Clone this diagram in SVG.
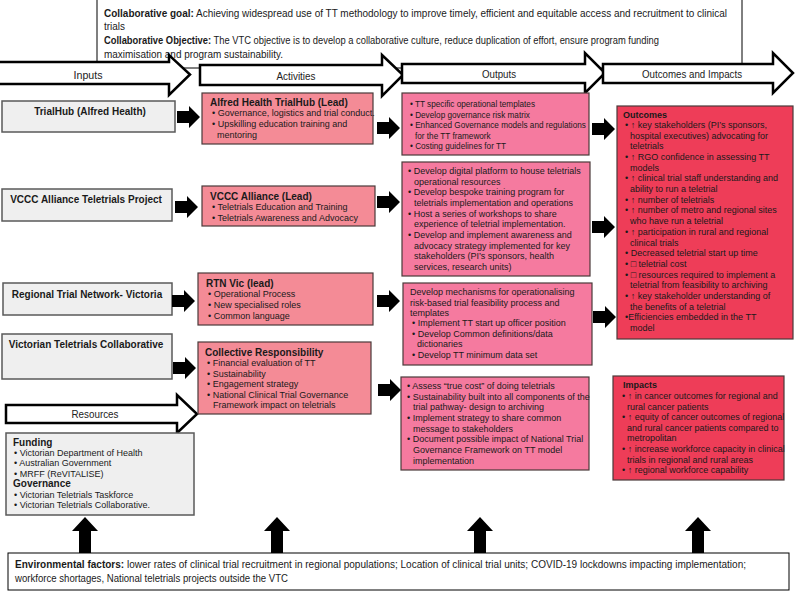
<svg xmlns="http://www.w3.org/2000/svg" width="800" height="593" viewBox="0 0 800 593">
<defs>
<style>
text{font-family:"Liberation Sans",Arial,sans-serif;fill:#1a1a1a}
.hd{font-size:10px}
.lbl{font-size:11px;text-anchor:middle;fill:#222}
.b{font-weight:bold}
.t{font-size:10px;font-weight:bold}
.s{font-size:9px}
.s8{font-size:8.2px}
.gray{fill:#efefef;stroke:#5a5a5a;stroke-width:1.5}
.act{fill:#f48b96;stroke:#4a3a3a;stroke-width:1.2}
.out{fill:#f57a9f;stroke:#4a3a3a;stroke-width:1.2}
.res{fill:#ee3d58;stroke:#4a3a3a;stroke-width:1.2}
.big{fill:#fff;stroke:#000;stroke-width:2.5;stroke-linejoin:miter}
.frame{fill:#fff;stroke:#000;stroke-width:1}
</style>
<path id="ra" d="M0,-6 H12 V-11 L23,0 L12,11 V6 H0 Z" fill="#000"/>
<path id="ua" d="M-6,36 V14 H-13 L0,0 L13,14 H6 V36 Z" fill="#000"/>
</defs>
<rect width="800" height="593" fill="#fff"/>

<g id="goal">
<rect class="frame" x="97" y="-1" width="645" height="69"/>
<text class="hd" x="104" y="16.5" textLength="623" lengthAdjust="spacingAndGlyphs"><tspan class="b">Collaborative goal:</tspan> Achieving widespread use of TT methodology to improve timely, efficient and equitable access and recruitment to clinical</text>
<text class="hd" x="104" y="30" textLength="21" lengthAdjust="spacingAndGlyphs">trials</text>
<text class="hd" x="104" y="44" textLength="555" lengthAdjust="spacingAndGlyphs"><tspan class="b">Collaborative Objective:</tspan> The VTC objective is to develop a collaborative culture, reduce duplication of effort, ensure program funding</text>
<text class="hd" x="104" y="58" textLength="179" lengthAdjust="spacingAndGlyphs">maximisation and program sustainability.</text>
</g>

<g id="header-arrows">
<g id="arrow-inputs">
<path class="big" d="M-3,62 H169 V55 L190,74.5 L169,95 V84 H-3 Z"/>
<text class="lbl" x="88" y="79" textLength="29" lengthAdjust="spacingAndGlyphs">Inputs</text>
</g>
<g id="arrow-activities">
<path class="big" d="M200,65 H382 V55 L403,75 L382,96 V85 H200 Z"/>
<text class="lbl" x="296" y="80" textLength="39" lengthAdjust="spacingAndGlyphs">Activities</text>
</g>
<g id="arrow-outputs">
<path class="big" d="M402,64 H585 V53 L605,73 L585,93 V83 H402 Z"/>
<text class="lbl" x="499" y="77.5" textLength="34" lengthAdjust="spacingAndGlyphs">Outputs</text>
</g>
<g id="arrow-outcomes">
<path class="big" d="M603,64 H773 V53 L793,73 L773,93 V83 H603 Z"/>
<text class="lbl" x="692" y="77.5" textLength="100" lengthAdjust="spacingAndGlyphs">Outcomes and Impacts</text>
</g>
<g id="arrow-resources">
<path class="big" d="M6,405 H177 V395 L197,414 L177,433 V423 H6 Z"/>
<text class="lbl" x="95" y="418" textLength="47" lengthAdjust="spacingAndGlyphs">Resources</text>
</g>
</g>

<g id="in-trialhub">
<rect class="gray" x="2" y="101" width="173" height="31"/>
<text class="t" x="90" y="114.5" text-anchor="middle">TrialHub (Alfred Health)</text>
</g>
<g id="in-vccc">
<rect class="gray" x="2" y="189" width="170" height="32"/>
<text class="t" x="86" y="202.5" text-anchor="middle">VCCC Alliance Teletrials Project</text>
</g>
<g id="in-rtn">
<rect class="gray" x="3" y="283" width="169" height="32"/>
<text class="t" x="87" y="297.5" text-anchor="middle">Regional Trial Network- Victoria</text>
</g>
<g id="in-vtc">
<rect class="gray" x="2" y="334" width="170" height="45"/>
<text class="t" x="86" y="347.5" text-anchor="middle">Victorian Teletrials Collaborative</text>
</g>
<g id="in-funding">
<rect class="gray" x="6" y="433" width="188" height="82"/>
<text class="t" x="13" y="445.5">Funding</text>
<text class="s" x="14" y="455.5">• Victorian Department of Health</text>
<text class="s" x="14" y="466">• Australian Government</text>
<text class="s" x="14" y="476.5">• MRFF (ReVITALISE)</text>
<text class="t" x="13" y="486.5">Governance</text>
<text class="s" x="14" y="497.5">• Victorian Teletrials Taskforce</text>
<text class="s" x="14" y="508">• Victorian Teletrials Collaborative.</text>
</g>

<g id="act-trialhub">
<rect class="act" x="202" y="93" width="171" height="51"/>
<text class="t" x="210" y="105.5">Alfred Health TrialHub (Lead)</text>
<text class="s" x="212" y="116">• Governance, logistics and trial conduct.</text>
<text class="s" x="212" y="127">• Upskilling education training and</text>
<text class="s" x="217" y="137.5">mentoring</text>
</g>
<g id="act-vccc">
<rect class="act" x="202" y="186" width="173" height="40"/>
<text class="t" x="210" y="199.5">VCCC Alliance (Lead)</text>
<text class="s" x="212" y="210">• Teletrials Education and Training</text>
<text class="s" x="212" y="220.5">• Teletrials Awareness and Advocacy</text>
</g>
<g id="act-rtn">
<rect class="act" x="198" y="273" width="175" height="52"/>
<text class="t" x="206" y="286.5">RTN Vic (lead)</text>
<text class="s" x="208" y="297">• Operational Process</text>
<text class="s" x="208" y="308">• New specialised roles</text>
<text class="s" x="208" y="319">• Common language</text>
</g>
<g id="act-collective">
<rect class="act" x="198" y="342" width="173" height="72"/>
<text class="t" x="205" y="355.5">Collective Responsibility</text>
<text class="s" x="207" y="366">• Financial evaluation of TT</text>
<text class="s" x="207" y="376.5">• Sustainability</text>
<text class="s" x="207" y="387">• Engagement strategy</text>
<text class="s" x="207" y="397.5">• National Clinical Trial Governance</text>
<text class="s" x="213" y="408">Framework impact on teletrials</text>
</g>

<g id="out-1">
<rect class="out" x="402" y="93" width="187" height="62"/>
<text class="s8" x="410" y="107">• TT specific operational templates</text>
<text class="s8" x="410" y="117.5">•  Develop governance risk matrix</text>
<text class="s8" x="410" y="128">• Enhanced Governance models and regulations</text>
<text class="s8" x="415" y="138.5">for the TT framework</text>
<text class="s8" x="410" y="149">• Costing guidelines for TT</text>
</g>
<g id="out-2">
<rect class="out" x="402" y="162" width="188" height="114"/>
<text class="s" x="408" y="174">• Develop digital platform to house teletrials</text>
<text class="s" x="414" y="184.7">operational resources</text>
<text class="s" x="408" y="195.3">• Develop bespoke training program for</text>
<text class="s" x="414" y="206">teletrials implementation and operations</text>
<text class="s" x="408" y="216.7">• Host a series of workshops to share</text>
<text class="s" x="414" y="227.3">experience of teletrial implementation.</text>
<text class="s" x="408" y="238">• Develop and implement awareness and</text>
<text class="s" x="414" y="248.7">advocacy strategy implemented for key</text>
<text class="s" x="414" y="259.3">stakeholders (PI’s sponsors, health</text>
<text class="s" x="414" y="270">services, research units)</text>
</g>
<g id="out-3">
<rect class="out" x="403" y="283" width="189" height="82"/>
<text class="s" x="410" y="295">Develop mechanisms for operationalising</text>
<text class="s" x="410" y="305.7">risk-based trial feasibility process and</text>
<text class="s" x="410" y="316.3">templates</text>
<text class="s" x="412" y="326">• Implement TT start up officer position</text>
<text class="s" x="412" y="336.7">• Develop Common definitions/data</text>
<text class="s" x="417" y="347.3">dictionaries</text>
<text class="s" x="412" y="358">• Develop TT minimum data set</text>
</g>
<g id="out-4">
<rect class="out" x="401" y="377" width="188" height="93"/>
<text class="s" x="407" y="389">• Assess “true cost”  of doing teletrials</text>
<text class="s" x="407" y="399.7">• Sustainability built into all components of the</text>
<text class="s" x="413" y="410.3">trial pathway- design to archiving</text>
<text class="s" x="407" y="421">• Implement strategy to share common</text>
<text class="s" x="413" y="431.7">message to stakeholders</text>
<text class="s" x="407" y="442.3">• Document possible impact of National Trial</text>
<text class="s" x="413" y="453">Governance Framework on TT model</text>
<text class="s" x="413" y="463.7">implementation</text>
</g>

<g id="outcomes">
<rect class="res" x="617" y="106" width="176" height="233"/>
<text class="s b" x="623" y="118">Outcomes</text>
<text class="s" x="625" y="128">• ↑ key stakeholders (PI’s sponsors,</text>
<text class="s" x="630" y="138.7">hospital executives) advocating for</text>
<text class="s" x="630" y="149.4">teletrials</text>
<text class="s" x="625" y="160">• ↑ RGO confidence in assessing TT</text>
<text class="s" x="630" y="170.7">models</text>
<text class="s" x="625" y="181.4">• ↑ clinical trial staff understanding and</text>
<text class="s" x="630" y="192.1">ability to run a teletrial</text>
<text class="s" x="625" y="202.8">• ↑ number of teletrials</text>
<text class="s" x="625" y="213.4">• ↑ number of metro and regional sites</text>
<text class="s" x="630" y="224.1">who have run a teletrial</text>
<text class="s" x="625" y="234.8">• ↑ participation in rural and regional</text>
<text class="s" x="630" y="245.5">clinical trials</text>
<text class="s" x="625" y="256.2">•  Decreased teletrial start up time</text>
<text class="s" x="625" y="266.8">• □ teletrial cost</text>
<text class="s" x="625" y="277.5">• □ resources required to implement a</text>
<text class="s" x="630" y="288.2">teletrial from feasibility to archiving</text>
<text class="s" x="625" y="298.9">• ↑ key stakeholder understanding of</text>
<text class="s" x="630" y="309.6">the benefits of a teletrial</text>
<text class="s" x="625" y="320.2">•Efficiencies embedded in the TT</text>
<text class="s" x="630" y="330.9">model</text>
</g>
<g id="impacts">
<rect class="res" x="613" y="376" width="171" height="104"/>
<text class="s b" x="623" y="388">Impacts</text>
<text class="s" x="622" y="399">• ↑ in cancer outcomes for regional and</text>
<text class="s" x="627" y="409.6">rural cancer patients</text>
<text class="s" x="622" y="420.2">• ↑ equity of cancer outcomes of regional</text>
<text class="s" x="627" y="430.8">and rural cancer patients compared to</text>
<text class="s" x="627" y="441.4">metropolitan</text>
<text class="s" x="622" y="452">• ↑ increase workforce capacity in clinical</text>
<text class="s" x="627" y="462.6">trials in regional and rural areas</text>
<text class="s" x="622" y="473.2">• ↑ regional workforce capability</text>
</g>

<g id="environment">
<rect class="frame" x="8" y="553" width="781" height="37" stroke="#444" stroke-width="1.2"/>
<text class="hd" x="15" y="568" textLength="731" lengthAdjust="spacingAndGlyphs"><tspan class="b">Environmental factors:</tspan> lower rates of clinical trial recruitment in regional populations; Location of clinical trial units; COVID-19  lockdowns impacting implementation;</text>
<text class="hd" x="15" y="582" textLength="273" lengthAdjust="spacingAndGlyphs">workforce shortages, National teletrials projects outside the VTC</text>
</g>

<g id="connectors">
<use href="#ra" x="177" y="117"/>
<use href="#ra" x="175" y="207"/>
<use href="#ra" x="172" y="301"/>
<use href="#ra" x="173" y="368"/>
<use href="#ra" x="377" y="128"/>
<use href="#ra" x="377" y="202"/>
<use href="#ra" x="377" y="301"/>
<use href="#ra" x="378" y="390"/>
<use href="#ra" x="592" y="129"/>
<use href="#ra" x="592" y="227"/>
<use href="#ra" x="593" y="317"/>
<use href="#ua" x="85" y="517"/>
<use href="#ua" x="277" y="517"/>
<use href="#ua" x="480" y="517"/>
<use href="#ua" x="698" y="517"/>
</g>
</svg>
